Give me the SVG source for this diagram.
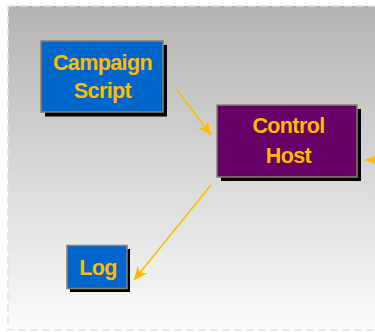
<svg xmlns="http://www.w3.org/2000/svg" width="375" height="332" viewBox="0 0 375 332">
  <defs>
    <linearGradient id="bg" x1="0" y1="0" x2="0" y2="1">
      <stop offset="0" stop-color="#b3b3b3"/>
      <stop offset="1" stop-color="#fbfbfb"/>
    </linearGradient>
    <marker id="arrow" viewBox="0 0 14 12" refX="13.5" refY="6" markerWidth="14" markerHeight="12" markerUnits="userSpaceOnUse" orient="auto">
      <path d="M0,0 L14,6 L0,12 L4,6 Z" fill="#ffbb00"/>
    </marker>
  </defs>
  <style>
    .node-box { stroke: #8a8070; stroke-width: 1.5; }
    .shadow { fill: #000; }
    .blue { fill: #0066cc; }
    .purple { fill: #660066; }
    .label { font-family: "Liberation Sans", Arial, sans-serif; font-weight: bold; font-size: 21.5px; letter-spacing: -0.6px; fill: #ffbb00; text-anchor: middle; }
    .conn { stroke: #ffbb00; stroke-width: 1.6; fill: none; marker-end: url(#arrow); }
  </style>

  <rect width="375" height="332" fill="#ffffff"/>
  <rect x="8" y="6" width="375" height="324" fill="url(#bg)" stroke="#e2e2e2" stroke-width="1.5" stroke-dasharray="8 4"/>

  <g id="connectors">
    <line class="conn" x1="176" y1="89" x2="211" y2="135"/>
    <line class="conn" x1="211" y1="185" x2="134" y2="280"/>
    <line class="conn" x1="392" y1="160" x2="365.5" y2="160"/>
  </g>

  <g id="campaign-script">
    <rect class="shadow" x="45" y="45" width="122" height="71.5"/>
    <rect class="node-box blue" x="41" y="41" width="122" height="71"/>
    <text class="label" x="102.5" y="70.3">Campaign</text>
    <text class="label" x="102.5" y="98">Script</text>
  </g>

  <g id="control-host">
    <rect class="shadow" x="221" y="109" width="140" height="72"/>
    <rect class="node-box purple" x="217" y="105" width="140" height="72"/>
    <text class="label" x="288.5" y="132.7">Control</text>
    <text class="label" x="288.5" y="162.7">Host</text>
  </g>

  <g id="log">
    <rect class="shadow" x="70" y="249" width="60" height="43"/>
    <rect class="node-box blue" x="67" y="245.5" width="60" height="43"/>
    <text class="label" x="98" y="275">Log</text>
  </g>
</svg>
